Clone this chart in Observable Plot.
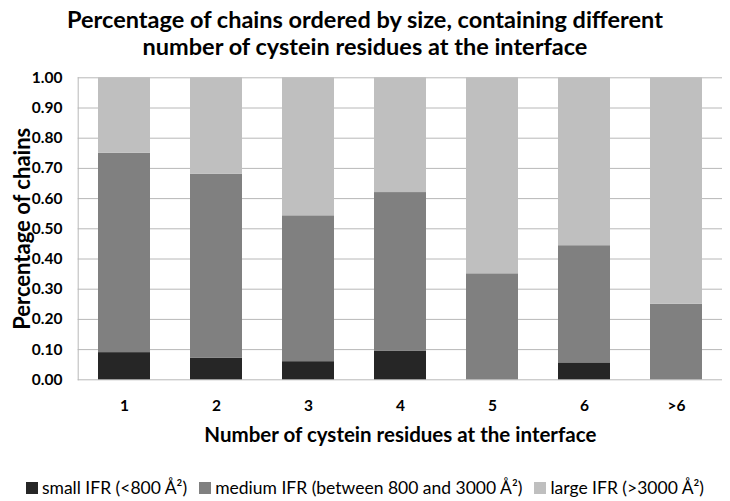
<!DOCTYPE html>
<html>
<head>
<meta charset="utf-8">
<script src="https://cdn.jsdelivr.net/npm/d3@7"></script>
<script src="https://cdn.jsdelivr.net/npm/@observablehq/plot@0.6"></script>
<style>
  html, body { margin: 0; padding: 0; background: #fff; }
  body { width: 730px; font-family: Lato, "Open Sans", sans-serif; color: #000; }
  #title { text-align: center; font-weight: bold; font-size: 23.5px; line-height: 27px; padding-top: 6px; height: 54px; white-space: nowrap; }
  #legend { display: flex; justify-content: center; gap: 12px; font-size: 17.5px; line-height: 20px; margin-top: 18px; white-space: nowrap; }
  #legend span.item { display: inline-flex; align-items: center; gap: 4px; }
  #legend span.sw { display: inline-block; width: 12px; height: 12px; }
  svg { display: block; }
</style>
</head>
<body>
<div id="title">Percentage of chains ordered by size, containing different<br>number of cystein residues at the interface</div>
<div id="chart"></div>
<div id="legend"></div>
<script>
const categories = ["1", "2", "3", "4", "5", "6", ">6"];
const sizes = ["small", "medium", "large"];
const sizeLabels = ["small IFR (<800 Å²)", "medium IFR (between 800 and 3000 Å²)", "large IFR (>3000 Å²)"];
const colors = ["#262626", "#808080", "#bfbfbf"];
const smallValues  = [0.090, 0.071, 0.060, 0.094, 0.000, 0.056, 0.000];
const mediumValues = [0.660, 0.610, 0.483, 0.526, 0.351, 0.388, 0.250];
const largeValues  = [0.250, 0.319, 0.457, 0.380, 0.649, 0.556, 0.750];
const yTicks = [0, 0.1, 0.2, 0.3, 0.4, 0.5, 0.6, 0.7, 0.8, 0.9, 1.0];
const xTitle = "Number of cystein residues at the interface";
const yTitle = "Percentage of chains";

const seriesValues = [smallValues, mediumValues, largeValues];
const data = [];
categories.forEach((c, i) => {
  sizes.forEach((s, j) => data.push({category: c, size: s, value: seriesValues[j][i]}));
});

const chart = Plot.plot({
  width: 730,
  height: 400,
  marginLeft: 77.7,
  marginRight: 8,
  marginTop: 17.3,
  marginBottom: 80.7,
  style: {fontFamily: "Lato, 'Open Sans', sans-serif", fontWeight: "bold", color: "#000", background: "#fff"},
  x: {domain: categories, paddingInner: 0.435, paddingOuter: 0.2175, label: null},
  y: {domain: [0, 1], label: null},
  color: {domain: sizes, range: colors},
  marks: [
    Plot.ruleY(yTicks, {stroke: "#b8b8b8", strokeWidth: 1}),
    Plot.barY(data, {x: "category", y: "value", fill: "size", order: sizes}),
    Plot.frame({anchor: "left", stroke: "#b8b8b8"}),
    Plot.axisY({ticks: yTicks, tickFormat: d3.format(".2f"), tickSize: 0, tickPadding: 15.7, fontSize: 15.5, label: null}),
    Plot.axisX({tickSize: 0, tickPadding: 20, fontSize: 15.5, label: null}),
    Plot.text([xTitle], {frameAnchor: "bottom", dy: 56, fontSize: 20.5, fontWeight: "bold", lineAnchor: "middle"}),
    Plot.text([yTitle], {frameAnchor: "left", dx: -55.5, rotate: -90, fontSize: 22, fontWeight: "bold", lineAnchor: "middle", textAnchor: "middle"})
  ]
});
document.getElementById("chart").appendChild(chart);

const legend = document.getElementById("legend");
sizes.forEach((s, i) => {
  const item = document.createElement("span");
  item.className = "item";
  const sw = document.createElement("span");
  sw.className = "sw";
  sw.style.background = colors[i];
  item.appendChild(sw);
  item.appendChild(document.createTextNode(sizeLabels[i]));
  legend.appendChild(item);
});
</script>
</body>
</html>
